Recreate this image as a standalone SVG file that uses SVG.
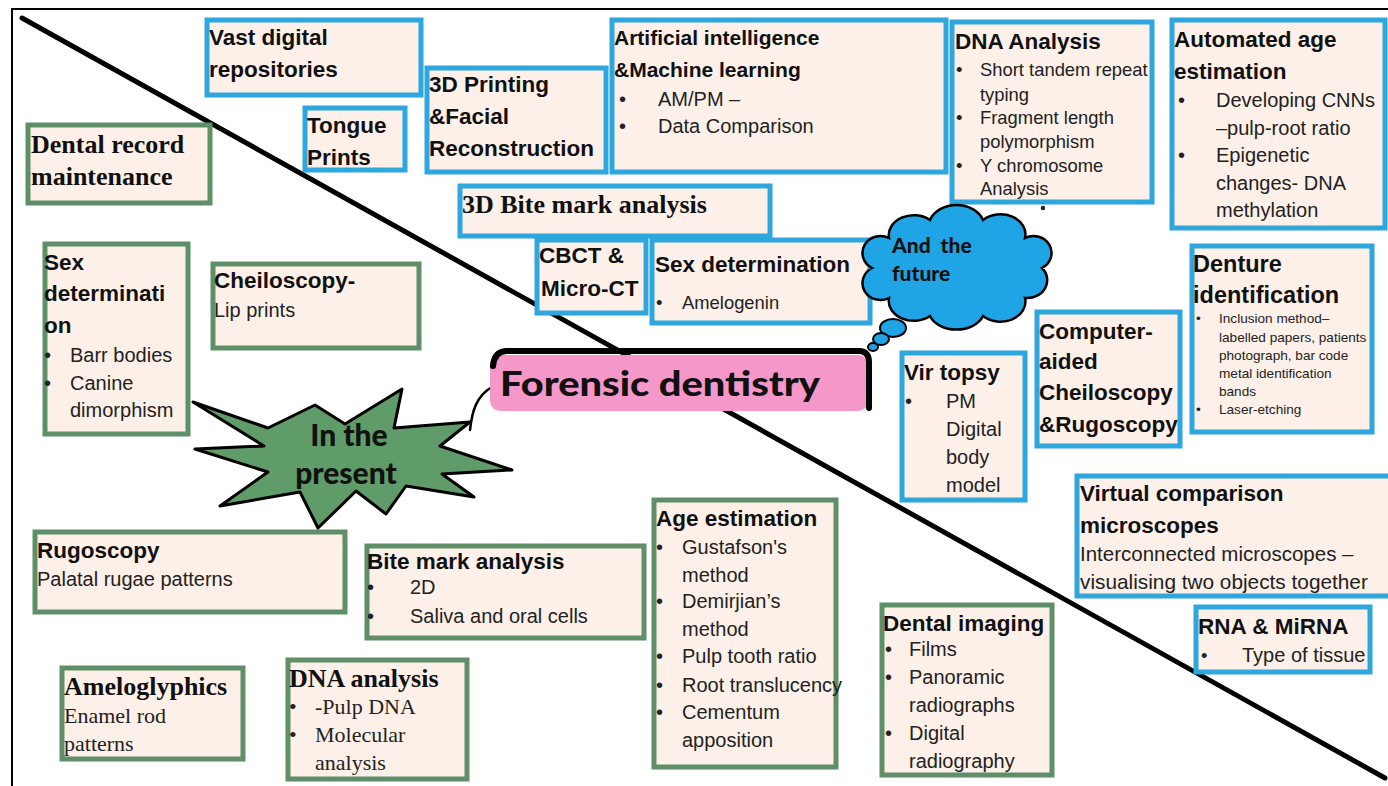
<svg xmlns="http://www.w3.org/2000/svg" width="1388" height="786" viewBox="0 0 1388 786">
<style>
.bb{fill:#fcf0e8;stroke:#2ea6de;stroke-width:5}
.gb{fill:#fcf0e8;stroke:#5e8f68;stroke-width:5}
.t{font-family:"Liberation Sans",Arial,sans-serif;font-weight:bold;font-size:22.5px;fill:#111}
.b{font-family:"Liberation Sans",Arial,sans-serif;font-size:20px;fill:#222}
.s{font-family:"Liberation Sans",Arial,sans-serif;font-size:18.4px;fill:#222}
.xs{font-family:"Liberation Sans",Arial,sans-serif;font-size:13.6px;fill:#222}
.ts{font-family:"Liberation Serif","Times New Roman",serif;font-weight:bold;font-size:26px;fill:#111}
.tr{font-family:"Liberation Serif","Times New Roman",serif;font-size:22px;fill:#222}
.big{font-family:Lato,"Liberation Sans",sans-serif;font-weight:900;fill:#111}
</style>
<rect width="1388" height="786" fill="#fff"/>
<path d="M12,786 L12,9 L1388,9" fill="none" stroke="#000" stroke-width="2"/>
<g id="divider">
<line x1="22" y1="18" x2="1385" y2="778" stroke="#000" stroke-width="5" stroke-linecap="round"/>
</g>

<!-- Future (blue) -->
<g id="vast"><rect class="bb" x="207" y="20" width="214" height="75"/>
<text class="t" x="209" y="45">Vast digital</text><text class="t" x="209" y="77">repositories</text></g>
<g id="tongue"><rect class="bb" x="305" y="108" width="100" height="62"/>
<text class="t" x="307" y="133">Tongue</text><text class="t" x="307" y="165">Prints</text></g>
<g id="print3d"><rect class="bb" x="427" y="68" width="179" height="104"/>
<text class="t" x="429" y="92">3D Printing</text><text class="t" x="429" y="124">&amp;Facial</text><text class="t" x="429" y="156">Reconstruction</text></g>
<g id="ai"><rect class="bb" x="612" y="20" width="334" height="152"/>
<text class="t" x="614" y="45" style="font-size:21px">Artificial intelligence</text><text class="t" x="614" y="77" style="font-size:21px">&amp;Machine learning</text>
<text class="b" x="619" y="106">•</text><text class="b" x="658" y="106">AM/PM –</text>
<text class="b" x="619" y="133">•</text><text class="b" x="658" y="133">Data Comparison</text></g>
<g id="dna-future"><rect class="bb" x="952" y="22" width="200" height="180"/>
<text class="t" x="955" y="49">DNA Analysis</text>
<text class="s" x="956" y="76">•</text><text class="s" x="980" y="76">Short tandem repeat</text>
<text class="s" x="980" y="101">typing</text>
<text class="s" x="956" y="124">•</text><text class="s" x="980" y="124">Fragment length</text>
<text class="s" x="980" y="148">polymorphism</text>
<text class="s" x="956" y="172">•</text><text class="s" x="980" y="172">Y chromosome</text>
<text class="s" x="980" y="195">Analysis</text>
<circle cx="1043" cy="208" r="2.2" fill="#222"/></g>
<g id="auto-age"><rect class="bb" x="1172" y="20" width="213" height="208"/>
<text class="t" x="1174" y="47">Automated age</text><text class="t" x="1174" y="79">estimation</text>
<text class="b" x="1178" y="107">•</text><text class="b" x="1216" y="107">Developing CNNs</text>
<text class="b" x="1216" y="135">–pulp-root ratio</text>
<text class="b" x="1178" y="162">•</text><text class="b" x="1216" y="162">Epigenetic</text>
<text class="b" x="1216" y="190">changes- DNA</text>
<text class="b" x="1216" y="217">methylation</text></g>
<g id="bite3d"><rect class="bb" x="460" y="186" width="310" height="50"/>
<text class="ts" x="462" y="213">3D Bite mark analysis</text></g>
<g id="cbct"><rect class="bb" x="537" y="240" width="109" height="73"/>
<text class="t" x="539" y="263">CBCT &amp;</text><text class="t" x="541" y="296">Micro-CT</text></g>
<g id="sex-future"><rect class="bb" x="652" y="240" width="218" height="83"/>
<text class="t" x="655" y="272">Sex determination</text>
<text class="s" x="656" y="309">•</text><text class="s" x="682" y="309">Amelogenin</text></g>
<g id="virtopsy"><rect class="bb" x="902" y="353" width="123" height="147"/>
<text class="t" x="904" y="380">Vir topsy</text>
<text class="b" x="905" y="408">•</text><text class="b" x="946" y="408">PM</text>
<text class="b" x="946" y="436">Digital</text><text class="b" x="946" y="464">body</text><text class="b" x="946" y="492">model</text></g>
<g id="cheilo-rugo"><rect class="bb" x="1037" y="312" width="143" height="134"/>
<text class="t" x="1039" y="339">Computer-</text><text class="t" x="1039" y="369">aided</text><text class="t" x="1039" y="400">Cheiloscopy</text><text class="t" x="1039" y="432">&amp;Rugoscopy</text></g>
<g id="denture"><rect class="bb" x="1192" y="246" width="180" height="186"/>
<text class="t" x="1193" y="272" style="font-size:23.5px">Denture</text><text class="t" x="1193" y="303" style="font-size:23.5px">identification</text>
<text class="xs" x="1196" y="323">•</text><text class="xs" x="1219" y="323">Inclusion method–</text>
<text class="xs" x="1219" y="342">labelled papers, patients</text>
<text class="xs" x="1219" y="360">photograph, bar code</text>
<text class="xs" x="1219" y="378">metal identification</text>
<text class="xs" x="1219" y="396">bands</text>
<text class="xs" x="1196" y="414">•</text><text class="xs" x="1219" y="414">Laser-etching</text></g>
<g id="virtual"><rect class="bb" x="1077" y="476" width="315" height="120"/>
<text class="t" x="1080" y="501">Virtual comparison</text><text class="t" x="1080" y="533">microscopes</text>
<text class="b" x="1080" y="561" style="font-size:20.5px">Interconnected microscopes –</text>
<text class="b" x="1080" y="589" style="font-size:20.8px">visualising two objects together</text></g>
<g id="rna"><rect class="bb" x="1196" y="607" width="174" height="65"/>
<text class="t" x="1198" y="634">RNA &amp; MiRNA</text>
<text class="s" x="1201" y="662">•</text><text class="b" x="1242" y="662">Type of tissue</text></g>

<!-- Present (green) -->
<g id="dental-record"><rect class="gb" x="28" y="125" width="182" height="78"/>
<text class="ts" x="31" y="153">Dental record</text><text class="ts" x="31" y="185">maintenance</text></g>
<g id="sex-present"><rect class="gb" x="45" y="244" width="143" height="190"/>
<text class="t" x="44" y="270">Sex</text><text class="t" x="44" y="301">determinati</text><text class="t" x="44" y="333">on</text>
<text class="b" x="44" y="362">•</text><text class="b" x="70" y="362">Barr bodies</text>
<text class="b" x="44" y="390">•</text><text class="b" x="70" y="390">Canine</text>
<text class="b" x="70" y="417">dimorphism</text></g>
<g id="cheiloscopy"><rect class="gb" x="213" y="264" width="206" height="84"/>
<text class="t" x="214" y="288">Cheiloscopy-</text><text class="b" x="214" y="317">Lip prints</text></g>
<g id="rugoscopy"><rect class="gb" x="35" y="532" width="310" height="80"/>
<text class="t" x="37" y="558">Rugoscopy</text><text class="b" x="37" y="586">Palatal rugae patterns</text></g>
<g id="bite2d"><rect class="gb" x="367" y="546" width="277" height="92"/>
<text class="t" x="367" y="569">Bite mark analysis</text>
<text class="b" x="367" y="594">•</text><text class="b" x="410" y="594">2D</text>
<text class="b" x="367" y="623">•</text><text class="b" x="410" y="623">Saliva and oral cells</text></g>
<g id="ameloglyphics"><rect class="gb" x="62" y="668" width="181" height="91"/>
<text class="ts" x="64" y="695">Ameloglyphics</text><text class="tr" x="64" y="723">Enamel rod</text><text class="tr" x="64" y="751">patterns</text></g>
<g id="dna-present"><rect class="gb" x="288" y="660" width="179" height="119"/>
<text class="ts" x="289" y="687">DNA analysis</text>
<text class="tr" x="289" y="714">•</text><text class="tr" x="315" y="714">-Pulp DNA</text>
<text class="tr" x="289" y="742">•</text><text class="tr" x="315" y="742">Molecular</text>
<text class="tr" x="315" y="770">analysis</text></g>
<g id="age"><rect class="gb" x="654" y="500" width="182" height="267"/>
<text class="t" x="656" y="526">Age estimation</text>
<text class="b" x="656" y="554">•</text><text class="b" x="682" y="554">Gustafson's</text>
<text class="b" x="682" y="582">method</text>
<text class="b" x="656" y="608">•</text><text class="b" x="682" y="608">Demirjian’s</text>
<text class="b" x="682" y="636">method</text>
<text class="b" x="656" y="663">•</text><text class="b" x="682" y="663">Pulp tooth ratio</text>
<text class="b" x="656" y="692">•</text><text class="b" x="682" y="692">Root translucency</text>
<text class="b" x="656" y="719">•</text><text class="b" x="682" y="719">Cementum</text>
<text class="b" x="682" y="747">apposition</text></g>
<g id="imaging"><rect class="gb" x="882" y="605" width="170" height="170"/>
<text class="t" x="883" y="631">Dental imaging</text>
<text class="b" x="885" y="656">•</text><text class="b" x="909" y="656">Films</text>
<text class="b" x="885" y="684">•</text><text class="b" x="909" y="684">Panoramic</text>
<text class="b" x="909" y="712">radiographs</text>
<text class="b" x="885" y="740">•</text><text class="b" x="909" y="740">Digital</text>
<text class="b" x="909" y="768">radiography</text></g>

<!-- connectors -->
<g id="connectors" fill="none" stroke="#000" stroke-width="2.5" stroke-linecap="round">
<path d="M470,430 C472,412 476,396 492,387"/>
</g>

<!-- In the present starburst -->
<g id="present">
<polygon points="193,402 268,428 315,405 345,424 402,389 394,428 470,422 440,446 512,470 442,474 474,497 406,486 386,514 356,491 318,528 300,492 220,506 268,472 195,449 264,446" fill="#5f9c69" stroke="#000" stroke-width="3" stroke-linejoin="round"/>
<text class="big" x="349" y="446" text-anchor="middle" style="font-size:30px">In the</text>
<text class="big" x="346" y="484" text-anchor="middle" style="font-size:30px">present</text>
</g>

<!-- Central -->
<g id="forensic">
<rect x="490" y="355" width="378" height="56" rx="10" fill="#f597c8"/>
<path d="M493,366 Q494,352 506,351 L860,351 Q869,352 869,362 L869,408" fill="none" stroke="#000" stroke-width="6" stroke-linecap="round"/>
<text class="big" x="500" y="396" style="font-size:35px" textLength="320" lengthAdjust="spacingAndGlyphs">Forensic dentistry</text>
</g>

<!-- And the future cloud -->
<g id="future">
<path d="M1042,268 A20,18 0 0,1 1025,298 A25,20 0 0,1 983,316 A28,20 0 0,1 930,316 A25,20 0 0,1 889,298 A18,17 0 0,1 872,268 A18,17 0 0,1 889,238 A25,20 0 0,1 930,220 A28,22 0 0,1 983,220 A25,20 0 0,1 1025,238 A18,17 0 0,1 1042,268 Z" fill="#1fa4e6" stroke="#000" stroke-width="2.5"/>
<ellipse cx="893" cy="328" rx="13" ry="9" fill="#1fa4e6" stroke="#000" stroke-width="2"/>
<ellipse cx="881" cy="339" rx="8" ry="6" fill="#1fa4e6" stroke="#000" stroke-width="2"/>
<ellipse cx="873" cy="347" rx="5" ry="4" fill="#1fa4e6" stroke="#000" stroke-width="2"/>
<text class="big" x="892" y="253" style="font-size:21px" xml:space="preserve">And  the</text>
<text class="big" x="892" y="281" style="font-size:21px">future</text>
</g>
</svg>
